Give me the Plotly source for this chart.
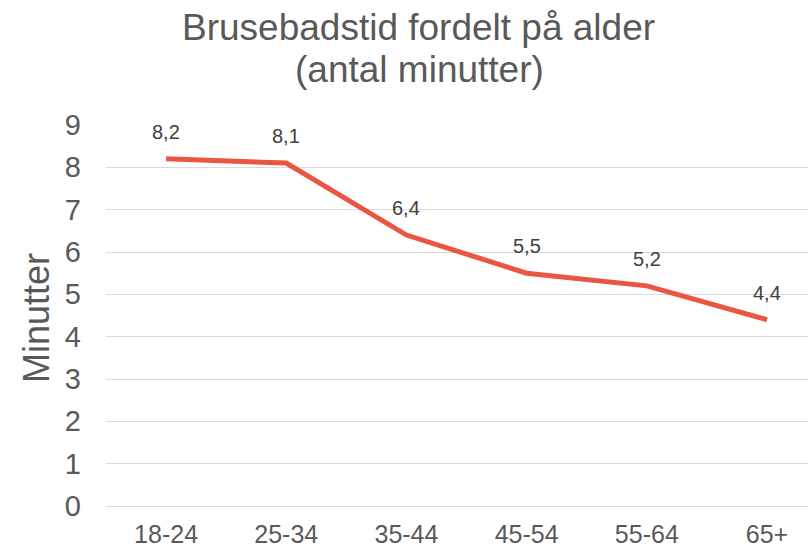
import plotly.graph_objects as go

categories = ["18-24", "25-34", "35-44", "45-54", "55-64", "65+"]
minutes = [8.2, 8.1, 6.4, 5.5, 5.2, 4.4]
labels = ["8,2", "8,1", "6,4", "5,5", "5,2", "4,4"]
y_ticks = [0, 1, 2, 3, 4, 5, 6, 7, 8, 9]

FONT = "Liberation Sans, Arial, sans-serif"
GRAY = "#595959"
LINE = "#EA5641"

# body margin removed via post_script, so window pixels == figure pixels
W, H = 808, 549
plot_left, plot_right, plot_top, plot_bottom = 106, 808, 125, 506
L = plot_left
T = plot_top
R = W - plot_right
B = H - plot_bottom
pw = plot_right - plot_left
ph = plot_bottom - plot_top

def px_x(p):
    return (p - plot_left) / pw

def px_y(p):
    return (plot_bottom - p) / ph

fig = go.Figure()
fig.add_trace(go.Scatter(
    x=categories, y=minutes, mode="lines",
    line=dict(color=LINE, width=5),
    hoverinfo="skip", showlegend=False,
))

annotations = []
for c, v, t in zip(categories, minutes, labels):
    annotations.append(dict(x=c, y=v, xref="x", yref="y", text=t, showarrow=False,
                            yshift=27, font=dict(family=FONT, size=20, color="#404040")))

annotations.append(dict(xref="paper", yref="paper", x=px_x(418), y=px_y(28),
                        text="Brusebadstid fordelt på alder", showarrow=False,
                        xanchor="center", yanchor="middle",
                        font=dict(family=FONT, size=37, color=GRAY)))
annotations.append(dict(xref="paper", yref="paper", x=px_x(419), y=px_y(70),
                        text="(antal minutter)", showarrow=False,
                        xanchor="center", yanchor="middle",
                        font=dict(family=FONT, size=37, color=GRAY)))
annotations.append(dict(xref="paper", yref="paper", x=px_x(36), y=px_y(318),
                        text="Minutter", showarrow=False, textangle=-90,
                        xanchor="center", yanchor="middle",
                        font=dict(family=FONT, size=36, color=GRAY)))

fig.update_layout(
    width=W, height=H,
    margin=dict(l=L, r=R, t=T, b=B, autoexpand=False),
    paper_bgcolor="white", plot_bgcolor="white",
    font=dict(family=FONT, color=GRAY),
    annotations=annotations,
    xaxis=dict(
        type="category", range=[-0.5, 5.341], showgrid=False, showline=False,
        zeroline=False, ticks="", tickfont=dict(family=FONT, size=25, color=GRAY),
        ticklabelstandoff=11, fixedrange=True,
    ),
    yaxis=dict(
        range=[0, 9], tickvals=y_ticks, showgrid=True, gridcolor="#D9D9D9",
        gridwidth=1, zeroline=True, zerolinecolor="#D9D9D9", zerolinewidth=1,
        showline=False, ticks="",
        tickfont=dict(family=FONT, size=29, color=GRAY),
        ticklabelstandoff=24, fixedrange=True,
    ),
)

fig.write_html(
    "out.html",
    config={"displayModeBar": False},
    post_script="document.body.style.margin='0';document.body.style.overflow='hidden';",
)
